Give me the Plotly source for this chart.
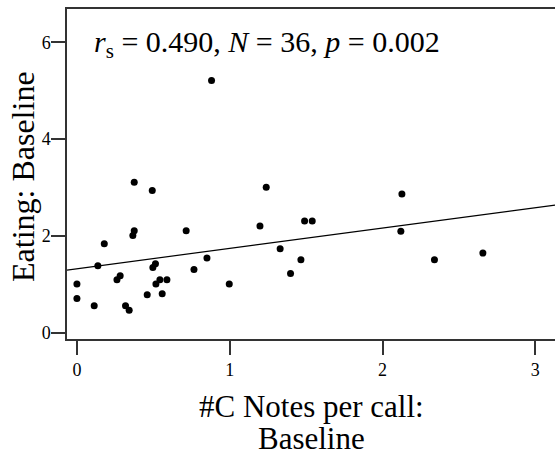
import numpy as np
import plotly.graph_objects as go

# Data
notes_per_call = [0.000, 0.000, 0.113, 0.137, 0.179, 0.262, 0.283, 0.318, 0.342, 0.366,
                  0.375, 0.375, 0.460, 0.493, 0.497, 0.514, 0.517, 0.543, 0.558, 0.589,
                  0.715, 0.766, 0.851, 0.997, 1.198, 1.239, 1.330, 0.881, 1.398, 1.466,
                  1.490, 1.540, 2.127, 2.120, 2.340, 2.657]
eating = [1.01, 0.71, 0.56, 1.39, 1.84, 1.10, 1.18, 0.56, 0.47, 2.01,
          2.11, 3.11, 0.79, 2.94, 1.35, 1.43, 1.01, 1.10, 0.81, 1.10,
          2.11, 1.31, 1.55, 1.01, 2.21, 3.01, 1.74, 5.21, 1.23, 1.51,
          2.31, 2.31, 2.87, 2.10, 1.51, 1.65]
fit_intercept = 1.326
fit_slope = 0.42
x_ticks = [0, 1, 2, 3]
y_ticks = [0, 2, 4, 6]
x_range = [-0.065, 3.129]
y_range = [-0.124, 6.686]
stat_text = "<i>r</i><sub>s</sub> = 0.490, <i>N</i> = 36, <i>p</i> = 0.002"
x_title_lines = ["#C Notes per call:", "Baseline"]
y_title = "Eating: Baseline"

FONT = "Liberation Serif"
AX = "#333333"

fit_x = np.array(x_range)
fit_y = fit_intercept + fit_slope * fit_x

fig = go.Figure()
fig.add_trace(go.Scatter(x=fit_x, y=fit_y, mode="lines",
                         line=dict(color="black", width=1.2),
                         hoverinfo="skip", showlegend=False))
fig.add_trace(go.Scatter(x=notes_per_call, y=eating, mode="markers",
                         marker=dict(color="black", size=7),
                         showlegend=False))

fig.add_annotation(x=0.096, y=5.96, xref="x", yref="y", text=stat_text,
                   showarrow=False, xanchor="left", yanchor="middle",
                   font=dict(family=FONT, size=30, color="black"))

# axis titles placed as annotations (paper coords: y=0 at plot bottom, 1 at top)
plot_top, plot_bottom, plot_left, plot_w = 9, 339, 67, 488
def py(pix):
    return (plot_bottom - pix) / (plot_bottom - plot_top)
def px(pix):
    return (pix - plot_left) / plot_w

for line, centre in zip(x_title_lines, [406, 438]):
    fig.add_annotation(x=px(311), y=py(centre), xref="paper", yref="paper",
                       text=line, showarrow=False, xanchor="center", yanchor="middle",
                       font=dict(family=FONT, size=31, color="black"))
fig.add_annotation(x=px(23), y=py(177), xref="paper", yref="paper",
                   text=y_title, textangle=-90, showarrow=False,
                   xanchor="center", yanchor="middle",
                   font=dict(family=FONT, size=32, color="black"))

fig.update_layout(
    template="none",
    width=555, height=456,
    margin=dict(l=67, r=0, t=9, b=117),
    paper_bgcolor="white", plot_bgcolor="white",
    font=dict(family=FONT, size=18, color="black"),
    xaxis=dict(range=x_range, tickvals=x_ticks, ticks="outside", ticklen=14,
               tickwidth=1.5, tickcolor=AX, showline=True, linecolor=AX,
               linewidth=1.5, mirror=True, showgrid=False, zeroline=False,
               tickfont=dict(family=FONT, size=18, color="black")),
    yaxis=dict(range=y_range, tickvals=y_ticks, ticks="outside", ticklen=14,
               tickwidth=1.5, tickcolor=AX, showline=True, linecolor=AX,
               linewidth=1.5, mirror=False, showgrid=False, zeroline=False,
               ticklabelstandoff=-3,
               tickfont=dict(family=FONT, size=18, color="black")),
)

fig.write_html("out.html")
